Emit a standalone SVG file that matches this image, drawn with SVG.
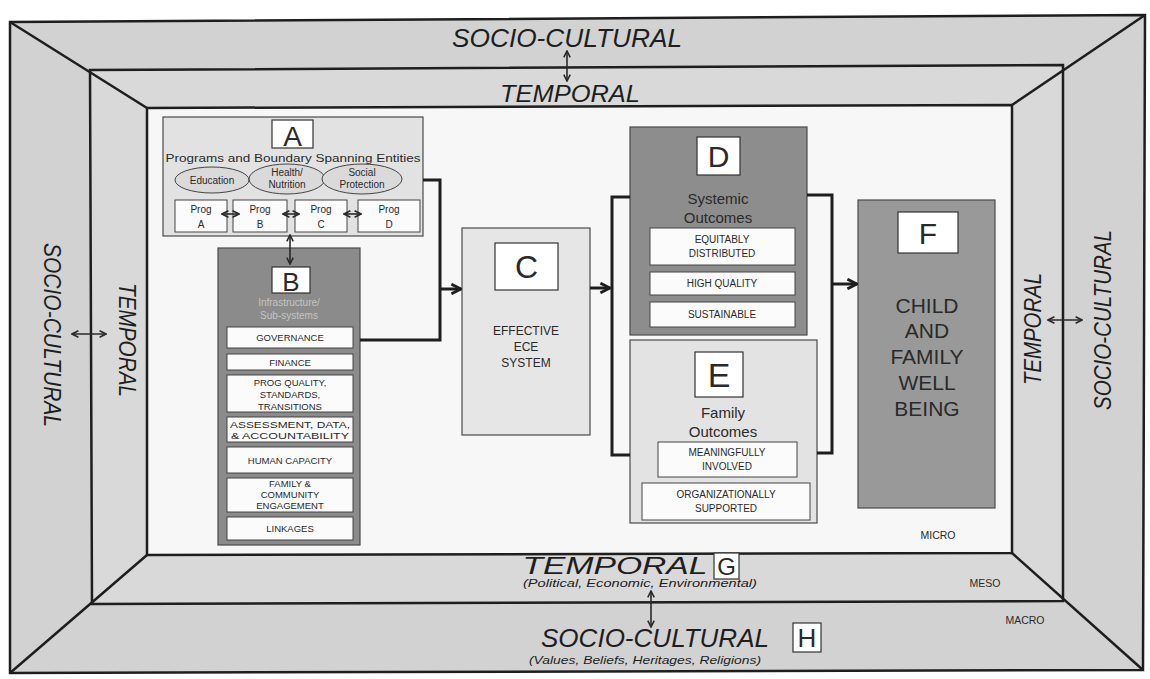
<svg xmlns="http://www.w3.org/2000/svg" width="1150" height="679" viewBox="0 0 1150 679">
<defs>
<style>
.frame{stroke:#1e1e1e;stroke-width:2.5;stroke-linejoin:miter}
.box{stroke:#4a4a4a;stroke-width:1.2}
.lbl{fill:#fff;stroke:#333;stroke-width:1.2}
.sub{fill:#fbfbfb;stroke:#444;stroke-width:1}
.t{font-family:"Liberation Sans",Arial,sans-serif;fill:#2a2a2a;text-anchor:middle}
.it{font-family:"Liberation Sans",Arial,sans-serif;font-style:italic;fill:#1e1e1e;text-anchor:middle}
.con{fill:none;stroke:#1e1e1e;stroke-width:3}
.thin{fill:none;stroke:#2a2a2a;stroke-width:1.6}
</style>
<marker id="ah" viewBox="0 0 10 10" refX="9" refY="5" markerWidth="12" markerHeight="12" markerUnits="userSpaceOnUse" orient="auto-start-reverse">
<path d="M1,1 L9,5 L1,9" fill="none" stroke="#1e1e1e" stroke-width="2.4"/>
</marker>
<marker id="sh" viewBox="0 0 10 10" refX="9" refY="5" markerWidth="8" markerHeight="8" markerUnits="userSpaceOnUse" orient="auto-start-reverse">
<path d="M1,1 L9,5 L1,9" fill="none" stroke="#2a2a2a" stroke-width="2"/>
</marker>
</defs>

<g id="frame">
<polygon class="frame" points="10,22 1145,15 1143,670 10,673" fill="#d2d2d2"/>
<polygon class="frame" points="90,70 1063,65 1063,601 92,604" fill="#d9d9d9"/>
<polygon class="frame" points="147,108 1012,105 1012,553 147,555" fill="#f7f7f7"/>
<path class="frame" fill="none" d="M10,22 L147,108 M1145,15 L1012,105 M1143,670 L1012,553 M10,673 L147,555"/>
</g>

<g id="layer-labels">
<text class="it" x="567" y="47" font-size="25" textLength="230" lengthAdjust="spacingAndGlyphs">SOCIO-CULTURAL</text>
<text class="it" x="570" y="102" font-size="24" textLength="140" lengthAdjust="spacingAndGlyphs">TEMPORAL</text>
<text class="it" transform="translate(44,335) rotate(90)" x="0" y="0" font-size="24" textLength="184" lengthAdjust="spacingAndGlyphs">SOCIO-CULTURAL</text>
<text class="it" transform="translate(119,340) rotate(90)" x="0" y="0" font-size="24" textLength="114" lengthAdjust="spacingAndGlyphs">TEMPORAL</text>
<text class="it" transform="translate(1041,329) rotate(-90)" x="0" y="0" font-size="24" textLength="112" lengthAdjust="spacingAndGlyphs">TEMPORAL</text>
<text class="it" transform="translate(1111,320) rotate(-90)" x="0" y="0" font-size="24" textLength="180" lengthAdjust="spacingAndGlyphs">SOCIO-CULTURAL</text>
<text class="it" x="615" y="574" font-size="24" textLength="185" lengthAdjust="spacingAndGlyphs">TEMPORAL</text>
<rect class="lbl" x="714" y="553" width="25" height="26"/>
<text class="t" x="726.5" y="575" font-size="24" fill="#1e1e1e">G</text>
<text class="it" x="640" y="587" font-size="11" textLength="234" lengthAdjust="spacingAndGlyphs">(Political, Economic, Environmental)</text>
<text class="it" x="655" y="647" font-size="25" textLength="228" lengthAdjust="spacingAndGlyphs">SOCIO-CULTURAL</text>
<rect class="lbl" x="793" y="623" width="28" height="29"/>
<text class="t" x="807" y="647" font-size="26" fill="#1e1e1e">H</text>
<text class="it" x="645" y="664" font-size="11" textLength="232" lengthAdjust="spacingAndGlyphs">(Values, Beliefs, Heritages, Religions)</text>
<text class="t" x="938" y="539" font-size="10.5">MICRO</text>
<text class="t" x="985" y="587" font-size="10.5">MESO</text>
<text class="t" x="1025" y="624" font-size="10.5">MACRO</text>
</g>

<g id="node-A">
<rect class="box" x="163" y="117" width="260" height="119" fill="#e2e2e2"/>
<rect class="lbl" x="272" y="120" width="41" height="28"/>
<text class="t" x="292.5" y="146" font-size="28">A</text>
<text class="t" x="293" y="162" font-size="10.5" textLength="255" lengthAdjust="spacingAndGlyphs">Programs and Boundary Spanning Entities</text>
<ellipse cx="212" cy="180" rx="37" ry="13" fill="#dadada" stroke="#444" stroke-width="1"/>
<ellipse cx="287" cy="179" rx="38" ry="15" fill="#dadada" stroke="#444" stroke-width="1"/>
<ellipse cx="362" cy="179" rx="40" ry="15" fill="#dadada" stroke="#444" stroke-width="1"/>
<text class="t" x="212" y="184" font-size="10">Education</text>
<text class="t" x="287" y="176" font-size="10">Health/</text>
<text class="t" x="287" y="188" font-size="10">Nutrition</text>
<text class="t" x="362" y="176" font-size="10">Social</text>
<text class="t" x="362" y="188" font-size="10">Protection</text>
<rect class="sub" x="175" y="200" width="52" height="32"/>
<rect class="sub" x="233" y="200" width="54" height="32"/>
<rect class="sub" x="295" y="200" width="52" height="32"/>
<rect class="sub" x="358" y="200" width="62" height="32"/>
<text class="t" x="201" y="213" font-size="10">Prog</text><text class="t" x="201" y="228" font-size="10">A</text>
<text class="t" x="260" y="213" font-size="10">Prog</text><text class="t" x="260" y="228" font-size="10">B</text>
<text class="t" x="321" y="213" font-size="10">Prog</text><text class="t" x="321" y="228" font-size="10">C</text>
<text class="t" x="389" y="213" font-size="10">Prog</text><text class="t" x="389" y="228" font-size="10">D</text>
</g>

<g id="node-B">
<rect class="box" x="218" y="248" width="142" height="297" fill="#8b8b8b"/>
<rect class="lbl" x="272" y="267" width="38" height="26"/>
<text class="t" x="291" y="291" font-size="26">B</text>
<text class="t" x="289" y="306" font-size="10" style="fill:#c4c4c4">Infrastructure/</text>
<text class="t" x="289" y="319" font-size="10" style="fill:#c4c4c4">Sub-systems</text>
<rect class="sub" x="227" y="327" width="126" height="21"/>
<rect class="sub" x="227" y="354" width="126" height="16"/>
<rect class="sub" x="227" y="375" width="126" height="37"/>
<rect class="sub" x="227" y="417" width="126" height="25"/>
<rect class="sub" x="227" y="447" width="126" height="26"/>
<rect class="sub" x="227" y="478" width="126" height="34"/>
<rect class="sub" x="227" y="517" width="126" height="23"/>
<text class="t" x="290" y="341" font-size="9.5">GOVERNANCE</text>
<text class="t" x="290" y="366" font-size="9.5">FINANCE</text>
<text class="t" x="290" y="386" font-size="9.5">PROG QUALITY,</text>
<text class="t" x="290" y="398" font-size="9.5">STANDARDS,</text>
<text class="t" x="290" y="410" font-size="9.5">TRANSITIONS</text>
<text class="t" x="290" y="428" font-size="9" textLength="120" lengthAdjust="spacingAndGlyphs">ASSESSMENT, DATA,</text>
<text class="t" x="290" y="439" font-size="9" textLength="118" lengthAdjust="spacingAndGlyphs">&amp; ACCOUNTABILITY</text>
<text class="t" x="290" y="464" font-size="9.5">HUMAN CAPACITY</text>
<text class="t" x="290" y="487" font-size="9.5">FAMILY &amp;</text>
<text class="t" x="290" y="498" font-size="9.5">COMMUNITY</text>
<text class="t" x="290" y="509" font-size="9.5">ENGAGEMENT</text>
<text class="t" x="290" y="532" font-size="9.5">LINKAGES</text>
</g>

<g id="node-C">
<rect class="box" x="462" y="228" width="128" height="207" fill="#e6e6e6"/>
<rect class="lbl" x="495" y="243" width="63" height="47"/>
<text class="t" x="526.5" y="278" font-size="32">C</text>
<text class="t" x="526" y="335" font-size="12">EFFECTIVE</text>
<text class="t" x="526" y="351" font-size="12">ECE</text>
<text class="t" x="526" y="367" font-size="12">SYSTEM</text>
</g>

<g id="node-D">
<rect class="box" x="630" y="127" width="177" height="208" fill="#8d8d8d"/>
<rect class="lbl" x="697" y="137" width="43" height="38"/>
<text class="t" x="718.5" y="167" font-size="30">D</text>
<text class="t" x="718" y="204" font-size="15">Systemic</text>
<text class="t" x="718" y="223" font-size="15">Outcomes</text>
<rect class="sub" x="650" y="228" width="145" height="37"/>
<rect class="sub" x="650" y="272" width="145" height="23"/>
<rect class="sub" x="650" y="302" width="145" height="25"/>
<text class="t" x="722" y="243" font-size="10">EQUITABLY</text>
<text class="t" x="722" y="257" font-size="10">DISTRIBUTED</text>
<text class="t" x="722" y="287" font-size="10">HIGH QUALITY</text>
<text class="t" x="722" y="318" font-size="10">SUSTAINABLE</text>
</g>

<g id="node-E">
<rect class="box" x="630" y="340" width="187" height="183" fill="#e3e3e3"/>
<rect class="lbl" x="695" y="352" width="48" height="45"/>
<text class="t" x="719" y="387" font-size="34">E</text>
<text class="t" x="723" y="418" font-size="15">Family</text>
<text class="t" x="723" y="437" font-size="15">Outcomes</text>
<rect class="sub" x="658" y="442" width="139" height="35"/>
<rect class="sub" x="642" y="483" width="168" height="37"/>
<text class="t" x="727" y="456" font-size="10">MEANINGFULLY</text>
<text class="t" x="727" y="470" font-size="10">INVOLVED</text>
<text class="t" x="726" y="498" font-size="10">ORGANIZATIONALLY</text>
<text class="t" x="726" y="512" font-size="10">SUPPORTED</text>
</g>

<g id="node-F">
<rect class="box" x="858" y="200" width="137" height="308" fill="#999"/>
<rect class="lbl" x="898" y="212" width="60" height="41"/>
<text class="t" x="928" y="244" font-size="30">F</text>
<text class="t" x="927" y="313" font-size="21">CHILD</text>
<text class="t" x="927" y="338" font-size="21">AND</text>
<text class="t" x="927" y="364" font-size="21">FAMILY</text>
<text class="t" x="927" y="390" font-size="21">WELL</text>
<text class="t" x="927" y="416" font-size="21">BEING</text>
</g>

<g id="connectors">
<polyline class="con" points="423,180 440,180 440,340 360,340"/>
<line class="con" x1="440" y1="289" x2="461" y2="289" marker-end="url(#ah)"/>
<line class="con" x1="590" y1="288" x2="610" y2="288" marker-end="url(#ah)"/>
<polyline class="con" points="630,197 612,197 612,455 630,455"/>
<polyline class="con" points="807,195 832,195 832,453 817,453"/>
<line class="con" x1="832" y1="284" x2="857" y2="284" marker-end="url(#ah)"/>
<line class="thin" x1="290" y1="235" x2="290" y2="264" marker-start="url(#sh)" marker-end="url(#sh)"/>
<line class="thin" x1="222" y1="214" x2="239" y2="214" marker-start="url(#sh)" marker-end="url(#sh)"/>
<line class="thin" x1="283" y1="214" x2="299" y2="214" marker-start="url(#sh)" marker-end="url(#sh)"/>
<line class="thin" x1="344" y1="214" x2="361" y2="214" marker-start="url(#sh)" marker-end="url(#sh)"/>
<line class="thin" x1="567" y1="51" x2="567" y2="81" marker-start="url(#sh)" marker-end="url(#sh)"/>
<line class="thin" x1="72" y1="334" x2="106" y2="334" marker-start="url(#sh)" marker-end="url(#sh)"/>
<line class="thin" x1="1048" y1="320" x2="1082" y2="320" marker-start="url(#sh)" marker-end="url(#sh)"/>
<line class="thin" x1="651" y1="591" x2="651" y2="627" marker-start="url(#sh)" marker-end="url(#sh)"/>
</g>
</svg>
